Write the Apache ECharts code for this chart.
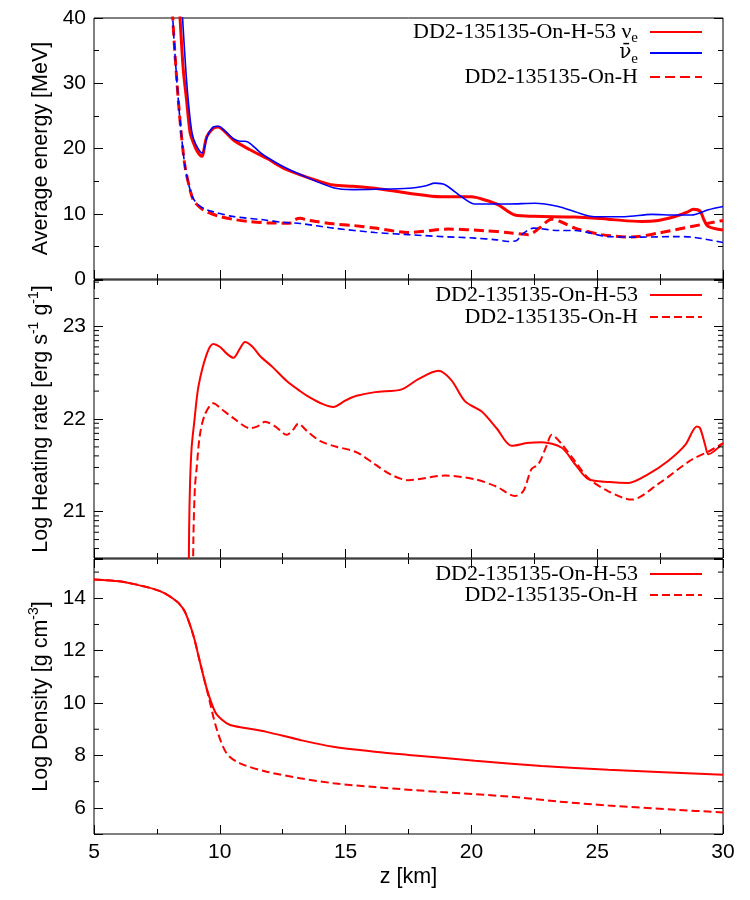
<!DOCTYPE html>
<html>
<head>
<meta charset="utf-8">
<script src="https://cdn.jsdelivr.net/npm/echarts@6.0.0/dist/echarts.min.js"></script>
<style>
html,body{margin:0;padding:0;background:#fff;}
#chart{width:750px;height:900px;}
</style>
</head>
<body>
<div id="chart"></div>
<script>
// ---------------- data ----------------
// Top panel: average energy [MeV]
const zNueH53 = [8.30, 8.42, 8.55, 8.68, 8.82, 8.95, 9.1, 9.28, 9.48, 9.74, 9.94, 10.2, 10.54, 11.2, 11.86, 12.53, 13.2, 13.85, 14.51, 15.3, 16.17, 17.5, 18.82, 20.0, 20.54, 21.07, 21.73, 22.5, 24.1, 25.44, 26.77, 27.43, 28.1, 28.6, 28.82, 29.09, 29.25, 29.42, 30.0];
const eNueH53 = [48, 40, 32, 27.4, 22.4, 20.9, 19.6, 18.8, 21.8, 23.1, 23.3, 22.6, 21.3, 19.8, 18.5, 17.0, 15.95, 15.1, 14.4, 14.2, 13.9, 13.15, 12.6, 12.6, 12.1, 11.36, 9.8, 9.6, 9.5, 9.17, 8.8, 8.97, 9.57, 10.3, 10.7, 10.4, 9.0, 8.05, 7.5];

const zNuebH53 = [8.40, 8.52, 8.65, 8.78, 8.90, 9.05, 9.3, 9.5, 9.74, 9.94, 10.2, 10.54, 10.8, 11.0, 11.2, 11.6, 11.86, 12.53, 13.2, 14.51, 15.3, 16.17, 17.5, 18.2, 18.55, 18.95, 19.61, 20.14, 21.47, 22.53, 23.45, 24.12, 24.9, 26.1, 27.17, 28.1, 28.75, 29.42, 30.0];
const eNuebH53 = [48, 40, 32, 26, 22.3, 20.6, 19.3, 21.8, 23.3, 23.4, 22.7, 21.5, 21.1, 21.1, 20.8, 19.4, 18.7, 17.2, 16.0, 14.0, 13.7, 13.75, 13.9, 14.3, 14.7, 14.45, 12.6, 11.5, 11.5, 11.6, 11.1, 10.3, 9.55, 9.55, 9.9, 9.8, 9.8, 10.6, 11.1];

const zNueOnH = [8.05, 8.13, 8.3, 8.45, 8.62, 8.82, 8.95, 9.2, 9.48, 10.0, 10.6, 11.2, 11.9, 12.52, 12.85, 13.0, 13.19, 13.5, 13.85, 14.51, 15.3, 16.17, 17.5, 19.08, 20.54, 21.5, 22.26, 22.7, 23.19, 23.6, 24.12, 25.18, 26.37, 27.43, 28.75, 30.0];
const eNueOnH = [48, 40, 30, 23, 17.2, 13.65, 12.1, 11.0, 10.3, 9.57, 9.1, 8.8, 8.6, 8.56, 8.6, 9.1, 9.3, 9.0, 8.8, 8.45, 8.2, 7.8, 7.13, 7.65, 7.4, 7.1, 6.8, 7.8, 9.17, 8.7, 7.8, 6.8, 6.42, 7.03, 8.05, 8.97];

const zNuebOnH = [8.05, 8.13, 8.3, 8.45, 8.62, 8.82, 8.95, 9.2, 9.48, 9.74, 10.5, 11.73, 12.52, 13.2, 14.51, 16.17, 17.5, 18.82, 20.14, 21.0, 21.47, 21.8, 22.0, 22.46, 23.45, 24.12, 25.44, 26.77, 28.1, 28.75, 30.0];
const eNuebOnH = [48, 40, 30, 23, 17.2, 13.65, 12.3, 11.2, 10.6, 10.3, 9.6, 9.07, 8.68, 8.5, 7.8, 7.13, 6.8, 6.5, 6.27, 6.0, 5.75, 5.9, 6.8, 7.8, 7.43, 7.43, 6.5, 6.42, 6.5, 6.42, 5.6];

// Middle panel: log heating rate
const zHeatH53 = [8.76, 8.78, 8.82, 8.88, 8.99, 9.15, 9.48, 9.74, 10.0, 10.3, 10.54, 10.8, 11.0, 11.3, 11.6, 12.1, 12.66, 13.2, 13.59, 14.1, 14.51, 15.0, 15.44, 16.17, 17.23, 17.89, 18.69, 19.2, 19.75, 20.41, 21.0, 21.6, 22.2, 22.79, 23.59, 24.1, 24.65, 25.5, 26.24, 27.0, 27.83, 28.5, 28.96, 29.09, 29.29, 29.42, 30.0];
const lHeatH53 = [20.0, 20.8, 21.33, 21.69, 21.98, 22.35, 22.7, 22.81, 22.78, 22.7, 22.66, 22.76, 22.83, 22.78, 22.68, 22.56, 22.41, 22.3, 22.23, 22.16, 22.13, 22.2, 22.25, 22.29, 22.32, 22.43, 22.52, 22.42, 22.19, 22.08, 21.9, 21.71, 21.74, 21.75, 21.69, 21.52, 21.35, 21.32, 21.31, 21.4, 21.55, 21.72, 21.92, 21.9, 21.72, 21.62, 21.74];

const zHeatOnH = [8.93, 8.95, 9.01, 9.08, 9.21, 9.41, 9.74, 10.1, 10.54, 11.2, 11.5, 11.8, 12.2, 12.66, 12.9, 13.12, 13.5, 14.0, 14.51, 15.44, 16.17, 16.8, 17.5, 18.95, 20.14, 21.0, 21.73, 22.06, 22.39, 22.66, 23.0, 23.19, 23.59, 24.1, 24.65, 25.44, 26.37, 27.43, 28.75, 29.5, 30.0];
const lHeatOnH = [20.0, 20.7, 21.26, 21.47, 21.83, 22.05, 22.17, 22.1, 22.01, 21.9, 21.92, 21.97, 21.92, 21.83, 21.88, 21.95, 21.86, 21.76, 21.71, 21.64, 21.51, 21.4, 21.34, 21.39, 21.35, 21.27, 21.17, 21.22, 21.46, 21.51, 21.72, 21.83, 21.73, 21.55, 21.36, 21.22, 21.13, 21.3, 21.56, 21.66, 21.74];

// Bottom panel: log density
const zDensH53 = [5.0, 6.0, 6.56, 7.36, 7.8, 8.15, 8.4, 8.62, 8.95, 9.21, 9.48, 9.81, 10.1, 10.41, 11.0, 11.86, 13.19, 14.51, 16.17, 17.5, 20.14, 22.79, 25.44, 30.0];
const dDensH53 = [14.72, 14.65, 14.55, 14.36, 14.2, 13.98, 13.78, 13.47, 12.58, 11.57, 10.55, 9.67, 9.35, 9.16, 9.05, 8.9, 8.59, 8.33, 8.14, 8.02, 7.8, 7.6, 7.45, 7.26];

const zDensOnH = [5.0, 6.0, 6.56, 7.36, 7.8, 8.15, 8.4, 8.62, 8.95, 9.21, 9.54, 9.87, 10.27, 10.8, 11.86, 13.19, 14.51, 16.17, 18.82, 21.47, 23.46, 25.44, 28.1, 30.0];
const dDensOnH = [14.72, 14.65, 14.55, 14.36, 14.2, 13.98, 13.78, 13.47, 12.58, 11.57, 10.3, 9.03, 8.08, 7.7, 7.38, 7.13, 6.94, 6.79, 6.6, 6.43, 6.24, 6.09, 5.93, 5.82];

// Axis ranges / ticks
const zRange = [5, 30];
const energyRange = [0, 40];
const heatRange = [20.5, 23.5];
const densRange = [5, 15.5];
const heatDecades = [20, 21, 22, 23];
const heatMinorFactors = [2, 3, 4, 5, 6, 7, 8, 9];
const densMinorTicks = [7, 9, 11, 13, 15];

// Legend labels
const legendLabels = {
  'H53 nue': '{a|DD2-135135-On-H-53 ν}{s|e}',
  'H53 nuebar': '{n|ν\u0304}{s|e}',
  'OnH nue': '{a|DD2-135135-On-H}',
  'H53 heat': '{a|DD2-135135-On-H-53}',
  'OnH heat': '{a|DD2-135135-On-H}',
  'H53 dens': '{a|DD2-135135-On-H-53}',
  'OnH dens': '{a|DD2-135135-On-H}'
};

// ---------------- chart ----------------
const SANS = 'Liberation Sans';
const SERIF = 'Liberation Serif';
const RED = '#ff0000', BLUE = '#0000ff';
const pairs = (xs, ys) => xs.map((x, i) => [x, ys[i]]);

const heatMinorTicks = [];
heatDecades.forEach(d => heatMinorFactors.forEach(k => {
  const v = d + Math.log10(k);
  if (v > heatRange[0] && v < heatRange[1]) heatMinorTicks.push(v);
}));

const grids = [
  {left: 94, right: 27, top: 18, height: 261},
  {left: 94, right: 27, top: 280, height: 278},
  {left: 94, right: 27, top: 559, height: 275}
].map(g => Object.assign(g, {show: true, borderColor: '#000', borderWidth: 1, backgroundColor: 'transparent', containLabel: false, outerBoundsMode: 'none'}));

const tickStyle = {show: true, inside: true, length: 9, lineStyle: {color: '#000', width: 1}};
const minorStyle = {show: true, splitNumber: 2, length: 5, lineStyle: {color: '#000', width: 1}};
const labelFont = {fontFamily: SANS, fontSize: 21, color: '#000'};

function xAx(gridIndex, position, showLabel, name) {
  const o = {
    type: 'value', gridIndex, position, min: zRange[0], max: zRange[1], interval: 5,
    axisLine: {show: false}, axisTick: tickStyle, minorTick: minorStyle,
    splitLine: {show: false}, minorSplitLine: {show: false},
    axisLabel: Object.assign({show: showLabel, margin: 8}, labelFont)
  };
  if (name) {
    o.name = name; o.nameLocation = 'middle'; o.nameGap = 32; o.nameMoveOverlap = false;
    o.nameTextStyle = {fontFamily: SANS, fontSize: 21.5, color: '#000'};
  }
  return o;
}
function yAx(gridIndex, position, range, extra, showLabel, name) {
  const o = Object.assign({
    type: 'value', gridIndex, position, min: range[0], max: range[1],
    axisLine: {show: false}, axisTick: tickStyle,
    splitLine: {show: false}, minorSplitLine: {show: false},
    axisLabel: Object.assign({show: showLabel, margin: 8}, labelFont)
  }, extra);
  if (name) {
    o.name = name; o.nameLocation = 'middle'; o.nameGap = 39; o.nameMoveOverlap = false;
    o.nameTextStyle = {fontFamily: SANS, fontSize: 21.5, color: '#000',
      rich: {a: {fontFamily: SANS, fontSize: 21.5, color: '#000', lineHeight: 28},
             b: {fontFamily: SANS, fontSize: 14, color: '#000', lineHeight: 16, verticalAlign: 'top'}}};
  }
  return o;
}

const energyExtra = {interval: 10, minorTick: minorStyle};
const heatExtra = {splitNumber: 3, minorTick: {show: false},
  axisLabel: Object.assign({margin: 8, formatter: v => Number.isInteger(v) ? String(v) : ''}, labelFont)};
const densExtra = {splitNumber: 5, minorTick: {show: false},
  axisLabel: Object.assign({margin: 8, formatter: v => (Number.isInteger(v) && v % 2 === 0) ? String(v) : ''}, labelFont)};

const xAxes = [
  xAx(0, 'bottom', false), xAx(0, 'top', false),
  xAx(1, 'bottom', false), xAx(1, 'top', false),
  xAx(2, 'bottom', true, 'z [km]'), xAx(2, 'top', false)
];
const yAxes = [
  yAx(0, 'left', energyRange, energyExtra, true, '{a|Average energy [MeV]}'),
  yAx(0, 'right', energyRange, energyExtra, false),
  yAx(1, 'left', heatRange, heatExtra, true, '{a|Log Heating rate [erg s}{b|-1}{a| g}{b|-1}{a|]}'),
  yAx(1, 'right', heatRange, Object.assign({}, heatExtra, {axisLabel: {show: false}}), false),
  yAx(2, 'left', densRange, densExtra, true, '{a|Log Density [g cm}{b|-3}{a|]}'),
  yAx(2, 'right', densRange, Object.assign({}, densExtra, {axisLabel: {show: false}}), false)
];
yAxes[3].axisLabel.show = false;
yAxes[5].axisLabel.show = false;

function lineSeries(name, axis, xs, ys, color, width, dash) {
  return {
    type: 'line', name, xAxisIndex: axis, yAxisIndex: axis,
    data: pairs(xs, ys), symbol: 'none', smooth: 0.3, clip: true,
    lineStyle: {color, width, type: dash || 'solid'}, itemStyle: {color},
    emphasis: {disabled: true}, silent: true
  };
}
function minorTickSeries(axis, values) {
  return {
    type: 'custom', xAxisIndex: axis, yAxisIndex: axis, silent: true, clip: false, z: 10,
    data: values.map(v => [zRange[0], v]), encode: {x: 0, y: 1},
    renderItem: (params, api) => {
      const v = api.value(1);
      const l = api.coord([zRange[0], v]);
      const r = api.coord([zRange[1], v]);
      return {type: 'group', children: [
        {type: 'line', shape: {x1: l[0], y1: l[1], x2: l[0] + 5, y2: l[1]}, style: {stroke: '#000', lineWidth: 1}},
        {type: 'line', shape: {x1: r[0] - 5, y1: r[1], x2: r[0], y2: r[1]}, style: {stroke: '#000', lineWidth: 1}}
      ]};
    }
  };
}

const series = [
  lineSeries('H53 nue', 0, zNueH53, eNueH53, RED, 3),
  lineSeries('OnH nue', 0, zNueOnH, eNueOnH, RED, 3, [10, 5]),
  lineSeries('H53 nuebar', 0, zNuebH53, eNuebH53, BLUE, 1.6),
  lineSeries('OnH nuebar', 0, zNuebOnH, eNuebOnH, BLUE, 1.6, [7, 4]),
  lineSeries('H53 heat', 2, zHeatH53, lHeatH53, RED, 2),
  lineSeries('OnH heat', 2, zHeatOnH, lHeatOnH, RED, 2, [8, 4]),
  lineSeries('H53 dens', 4, zDensH53, dDensH53, RED, 2),
  lineSeries('OnH dens', 4, zDensOnH, dDensOnH, RED, 2, [8, 4]),
  minorTickSeries(2, heatMinorTicks),
  minorTickSeries(4, densMinorTicks)
];

function legendRow(name, centerY) {
  return {
    data: [name], right: 47, top: centerY - 14, orient: 'horizontal', align: 'right',
    padding: 0, itemWidth: 52, itemHeight: 2, selectedMode: false,
    itemStyle: {opacity: 0, borderWidth: 0},
    formatter: n => legendLabels[n],
    textStyle: {fontFamily: SERIF, fontSize: 22, color: '#000', padding: [0, 7, 0, 0],
      rich: {a: {fontFamily: SERIF, fontSize: 22, color: '#000', lineHeight: 28},
             n: {fontFamily: 'DejaVu Serif', fontSize: 20, color: '#000', lineHeight: 28},
             s: {fontFamily: SERIF, fontSize: 15, color: '#000', lineHeight: 16, verticalAlign: 'bottom'}}}
  };
}
const legends = [
  legendRow('H53 nue', 35), legendRow('H53 nuebar', 57), legendRow('OnH nue', 80),
  legendRow('H53 heat', 298), legendRow('OnH heat', 320),
  legendRow('H53 dens', 577), legendRow('OnH dens', 598)
];

const chart = echarts.init(document.getElementById('chart'), null, {renderer: 'canvas'});
chart.setOption({
  animation: false,
  backgroundColor: '#fff',
  grid: grids,
  xAxis: xAxes,
  yAxis: yAxes,
  legend: legends,
  series
});
</script>
</body>
</html>
